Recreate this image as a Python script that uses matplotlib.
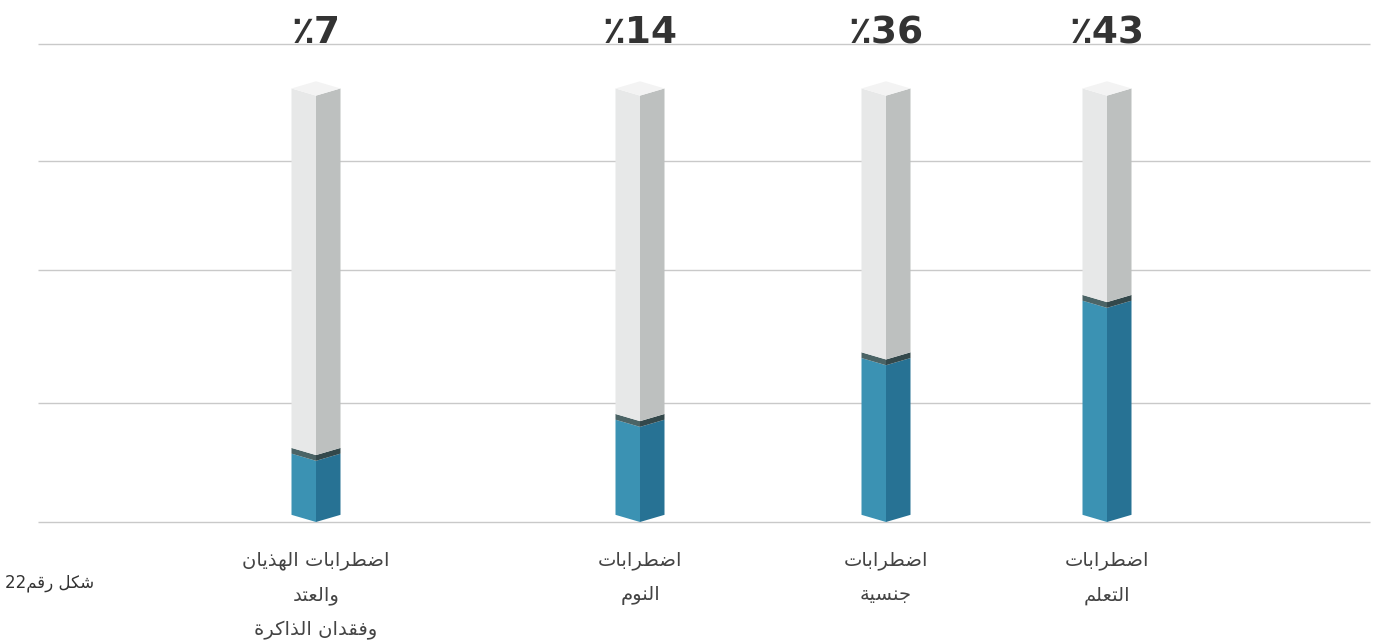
import re
import matplotlib
matplotlib.use("Agg")
import matplotlib.pyplot as plt

# data (left to right as drawn)
categories = [
    "اضطرابات الهذيان\nوالعتد\nوفقدان الذاكرة",
    "اضطرابات\nالنوم",
    "اضطرابات\nجنسية",
    "اضطرابات\nالتعلم",
]
percent_labels = ["٪7", "٪14", "٪36", "٪43"]
fill_level = [12.8, 19.9, 32.8, 44.8]   # height of the blue part
column_top = 89.2                        # grey tube height
grid_levels = [0, 25, 52.7, 75.5, 100]
caption = "شكل رقم22"

# --- tiny arabic shaper (matplotlib does no shaping / bidi) ---
forms = {  # isolated, final, initial, medial
    "ا": ("\uFE8D", "\uFE8E", None, None),
    "ب": ("\uFE8F", "\uFE90", "\uFE91", "\uFE92"),
    "ة": ("\uFE93", "\uFE94", None, None),
    "ت": ("\uFE95", "\uFE96", "\uFE97", "\uFE98"),
    "ج": ("\uFE9D", "\uFE9E", "\uFE9F", "\uFEA0"),
    "د": ("\uFEA9", "\uFEAA", None, None),
    "ذ": ("\uFEAB", "\uFEAC", None, None),
    "ر": ("\uFEAD", "\uFEAE", None, None),
    "س": ("\uFEB1", "\uFEB2", "\uFEB3", "\uFEB4"),
    "ش": ("\uFEB5", "\uFEB6", "\uFEB7", "\uFEB8"),
    "ض": ("\uFEBD", "\uFEBE", "\uFEBF", "\uFEC0"),
    "ط": ("\uFEC1", "\uFEC2", "\uFEC3", "\uFEC4"),
    "ع": ("\uFEC9", "\uFECA", "\uFECB", "\uFECC"),
    "ف": ("\uFED1", "\uFED2", "\uFED3", "\uFED4"),
    "ق": ("\uFED5", "\uFED6", "\uFED7", "\uFED8"),
    "ك": ("\uFED9", "\uFEDA", "\uFEDB", "\uFEDC"),
    "ل": ("\uFEDD", "\uFEDE", "\uFEDF", "\uFEE0"),
    "م": ("\uFEE1", "\uFEE2", "\uFEE3", "\uFEE4"),
    "ن": ("\uFEE5", "\uFEE6", "\uFEE7", "\uFEE8"),
    "ه": ("\uFEE9", "\uFEEA", "\uFEEB", "\uFEEC"),
    "و": ("\uFEED", "\uFEEE", None, None),
    "ي": ("\uFEF1", "\uFEF2", "\uFEF3", "\uFEF4"),
}


def shape_line(s):
    out = []
    for i, ch in enumerate(s):
        if ch not in forms:
            out.append(ch)
            continue
        prev = s[i - 1] if i > 0 else ""
        nxt = s[i + 1] if i + 1 < len(s) else ""
        jp = prev in forms and forms[prev][2] is not None
        jn = nxt in forms and forms[ch][2] is not None
        iso, fin, ini, med = forms[ch]
        if jp and jn:
            out.append(med)
        elif jp:
            out.append(fin)
        elif jn:
            out.append(ini)
        else:
            out.append(iso)
    vis = "".join(out)[::-1]
    # digits keep their left-to-right order
    return re.sub(r"[0-9]+", lambda m: m.group(0)[::-1], vis)


def shape(s):
    return "\n".join(shape_line(l) for l in s.split("\n"))


# --- layout ---
W, H = 1386, 643
x_pos = [316, 640, 886, 1107]
half_w = 24.5
depth = 1.5

fig = plt.figure(figsize=(W / 100, H / 100), dpi=100)
ax = fig.add_axes([0, (H - 522) / H, 1, 478 / H])
ax.set_xlim(0, W)
ax.set_ylim(0, 100)
ax.axis("off")

ax.hlines(grid_levels, 38, 1370, color="#c9c9c9", lw=1.0, zorder=0, clip_on=False)

grey_l, grey_r, grey_t = "#e7e8e8", "#bdc0bf", "#f3f3f3"
blue_l, blue_r = "#3b92b3", "#277294"
band_l, band_r = "#4b6466", "#33484b"


def faces(c, y0, y1, cl, cr):
    ax.fill([c - half_w, c, c, c - half_w], [y0 + depth, y0, y1, y1 + depth],
            color=cl, lw=0, zorder=2)
    ax.fill([c, c + half_w, c + half_w, c], [y0, y0 + depth, y1 + depth, y1],
            color=cr, lw=0, zorder=2)


for c, lev, pct, cat in zip(x_pos, fill_level, percent_labels, categories):
    faces(c, 0, lev, blue_l, blue_r)
    faces(c, lev, lev + 1.2, band_l, band_r)
    faces(c, lev + 1.2, column_top, grey_l, grey_r)
    ax.fill([c - half_w, c, c + half_w, c],
            [column_top + depth, column_top, column_top + depth, column_top + 2 * depth],
            color=grey_t, lw=0, zorder=2)
    ax.text(c, 102.3, pct, ha="center", va="center", fontsize=27,
            fontweight="bold", color="#333333", family="DejaVu Sans")
    ax.text(c, -6.0, shape(cat), ha="center", va="top", fontsize=14,
            color="#444444", family="DejaVu Sans", linespacing=2.05)

ax.text(50, -12.8, shape(caption), ha="center", va="center", fontsize=12,
        color="#333333", family="DejaVu Sans")

fig.savefig("out.png", dpi=100)
